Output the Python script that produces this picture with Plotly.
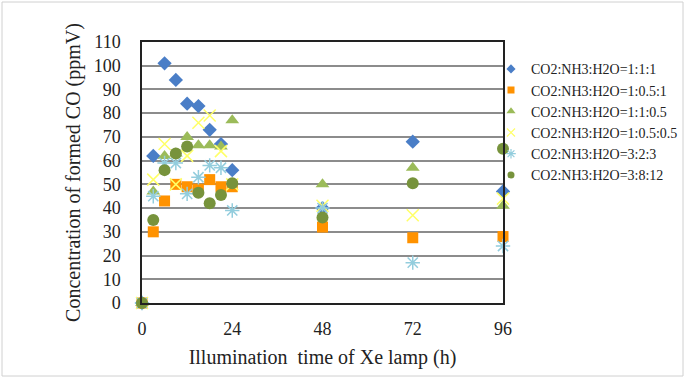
import plotly.graph_objects as go

hours = [0, 3, 6, 9, 12, 15, 18, 21, 24, 48, 72, 96]
s_111 = [0, 62, 101, 94, 84, 83, 73, 67, 56, 40, 68, 47]
s_1051 = [0, 30, 43, 50, 49, 48, 52, 49, 49, 32, 27.5, 28]
s_1105 = [0, 47, 62, 63, 70, 66.5, 66.5, 66, 77, 50, 57, 41]
s_10505 = [0, 52, 67, 50, 62, 76, 79, 64, 50, 41, 37, 44]
s_323 = [0, 45, 59, 59, 46, 53, 58, 57, 39, 40, 17, 24]
s_3812 = [0, 35, 56, 63, 66, 46.5, 42, 45.5, 50.5, 36, 50.5, 65]

names = ["CO2:NH3:H2O=1:1:1", "CO2:NH3:H2O=1:0.5:1", "CO2:NH3:H2O=1:1:0.5",
         "CO2:NH3:H2O=1:0.5:0.5", "CO2:NH3:H2O=3:2:3", "CO2:NH3:H2O=3:8:12"]
series = [s_111, s_1051, s_1105, s_10505, s_323, s_3812]
symbols = ["diamond", "square", "triangle-up", "x-thin-open", "asterisk-open", "circle"]
colors = ["#4A7EC7", "#FF9200", "#9BBB59", "#FFFF66", "#93CDDD", "#77933C"]
sizes = [11, 11, 12, 12, 12, 12]
leg_sizes = [7, 7, 8, 8, 8, 7]

fig = go.Figure()
for n, s, sym, c, sz, lsz in zip(names, series, symbols, colors, sizes, leg_sizes):
    marker = dict(symbol=sym, color=c, size=sz)
    lmarker = dict(symbol=sym, color=c, size=lsz)
    if sym.endswith("open"):
        marker["line"] = dict(color=c, width=1.5)
        lmarker["line"] = dict(color=c, width=1.2)
    else:
        marker["line"] = dict(width=0)
        lmarker["line"] = dict(width=0)
    fig.add_trace(go.Scatter(x=hours, y=s, mode="markers", name=n, showlegend=False,
                             marker=marker, cliponaxis=False))
    fig.add_trace(go.Scatter(x=[None], y=[None], mode="markers", name=n,
                             marker=lmarker, showlegend=True))

L, R, T, B = 142, 182, 42, 75
W, H = 685, 378
pw = W - L - R
ph = H - T - B

fig.update_layout(
    width=W, height=H,
    margin=dict(l=L, r=R, t=T, b=B, autoexpand=False),
    paper_bgcolor="white", plot_bgcolor="white",
    font=dict(family="Liberation Serif", color="#222"),
    showlegend=True,
    legend=dict(x=(491 - L) / pw, y=(302.7 - 53) / ph, xanchor="left", yanchor="top",
                font=dict(size=14, family="Liberation Serif", color="#222"),
                itemwidth=30, tracegroupgap=0, bgcolor="rgba(0,0,0,0)"),
    xaxis=dict(range=[0, 96], tickvals=[0, 24, 48, 72, 96], showgrid=False,
               zeroline=False, showline=True, linecolor="#222", linewidth=1.5,
               mirror=True, ticks="", ticklabelstandoff=9,
               tickfont=dict(size=18, family="Liberation Serif", color="#222"),
               title=dict(text="Illumination  time of Xe lamp (h)", standoff=12,
                          font=dict(size=20, family="Liberation Serif", color="#222"))),
    yaxis=dict(range=[0, 110], dtick=10, tick0=0, showgrid=True, gridcolor="#8c8c8c",
               gridwidth=1.5, zeroline=False, showline=True, linecolor="#222",
               linewidth=1.5, mirror=True, ticks="", ticklabelstandoff=16,
               tickfont=dict(size=18, family="Liberation Serif", color="#222"),
               title=dict(text="Concentration of formed CO (ppmV)", standoff=8,
                          font=dict(size=20, family="Liberation Serif", color="#222"))),
)

fig.add_shape(type="rect", xref="paper", yref="paper",
              x0=(2 - L) / pw, x1=(683 - L) / pw,
              y0=(H - B - 376) / ph, y1=(H - B - 2) / ph,
              line=dict(color="#d0d0d0", width=1), layer="below")

fig.write_html("out.html")
